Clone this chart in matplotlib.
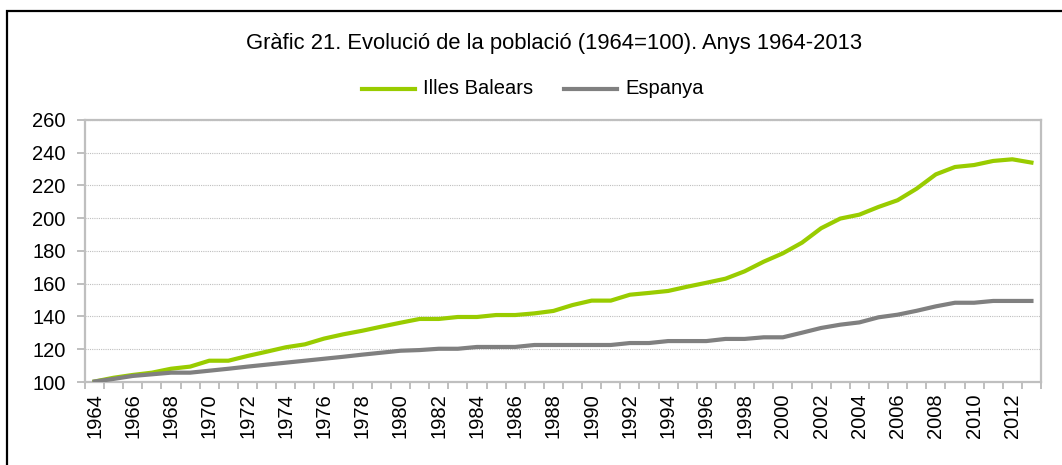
#Evolucio de la poblacio (1964=100), Illes Balears vs Espanya
import numpy as np
import matplotlib
matplotlib.use('Agg')
import matplotlib.pyplot as plt
from matplotlib.patches import Rectangle

plt.rcParams['font.family'] = ['Liberation Sans', 'DejaVu Sans']

#Data
years = list(range(1964, 2014))
balears = [100.3, 102.6, 104.3, 105.7, 108.1, 109.4, 113.0, 113.0, 115.9, 118.5,
           121.2, 123.0, 126.5, 129.1, 131.3, 133.8, 136.2, 138.5, 138.5, 139.7,
           139.7, 140.9, 140.9, 141.9, 143.4, 147.0, 149.7, 149.7, 153.3, 154.4,
           155.6, 158.2, 160.6, 163.1, 167.6, 173.5, 178.6, 185.1, 193.9, 199.8,
           202.2, 206.9, 211.0, 218.1, 226.8, 231.3, 232.5, 235.0, 236.0, 234.0]
espanya = [100.3, 101.9, 103.7, 104.7, 105.7, 105.7, 106.9, 108.1, 109.4, 110.6,
           111.8, 113.0, 114.2, 115.4, 116.7, 117.9, 119.1, 119.5, 120.3, 120.3,
           121.4, 121.4, 121.4, 122.6, 122.6, 122.6, 122.6, 122.6, 123.8, 123.8,
           125.0, 125.0, 125.0, 126.3, 126.3, 127.3, 127.3, 130.1, 133.0, 135.0,
           136.4, 139.5, 141.1, 143.5, 146.2, 148.4, 148.4, 149.5, 149.5, 149.5]
y_ticks = list(range(100, 261, 20))

W, H = 1062, 465
fig = plt.figure(figsize=(W/100, H/100), dpi=100)

#outer black frame (runs off the right and bottom)
fig.patches.append(Rectangle((7/W, -0.2), 1.2, 1.2 - 11/H, transform=fig.transFigure,
                             fill=False, edgecolor='black', linewidth=1.6, clip_on=False))

ax = fig.add_axes([85/W, (H-382)/H, 956/W, 262/H])

x = np.arange(len(years))
ax.plot(x, balears, color='#99CC00', lw=3, solid_joinstyle='round', zorder=3)
ax.plot(x, espanya, color='#808080', lw=3, solid_joinstyle='round', zorder=3)

ax.set_xlim(-0.5, len(years) - 0.5)
ax.set_ylim(100, 260)
ax.set_yticks(y_ticks)
ax.yaxis.grid(True, linestyle=(0, (1, 1)), color='#BFBFBF', linewidth=0.8)
ax.set_axisbelow(True)

#category axis: tick marks between categories, labels on every other year
ax.set_xticks(np.arange(-0.5, len(years), 1))
ax.set_xticklabels([])
ax.set_xticks(x[::2], minor=True)
ax.set_xticklabels([str(y) for y in years[::2]], minor=True, rotation=90)
ax.tick_params(axis='x', which='major', direction='out', length=5, width=1.4, color='#BFBFBF')
ax.tick_params(axis='x', which='minor', length=0, pad=8, labelsize=14.5)
ax.tick_params(axis='y', direction='out', length=6, width=1.4, color='#BFBFBF', pad=8, labelsize=14.5)

for s in ax.spines.values():
    s.set_color('#BFBFBF')
    s.set_linewidth(1.6)

fig.text(554/W, 1 - 43/H, 'Gràfic 21. Evolució de la població (1964=100). Anys 1964-2013',
         ha='center', va='center', fontsize=15.8)

#legend drawn in figure pixels
lx = [(362, 415, 'Illes Balears', '#99CC00'), (564, 617, 'Espanya', '#808080')]
ly = 1 - 89/H
for x0, x1, lab, col in lx:
    fig.add_artist(plt.Line2D([x0/W, x1/W], [ly, ly], color=col, lw=3, transform=fig.transFigure))
    fig.text((x1 + 8)/W, ly, lab, ha='left', va='center', fontsize=14.5)

plt.savefig('out.png', dpi=100)
